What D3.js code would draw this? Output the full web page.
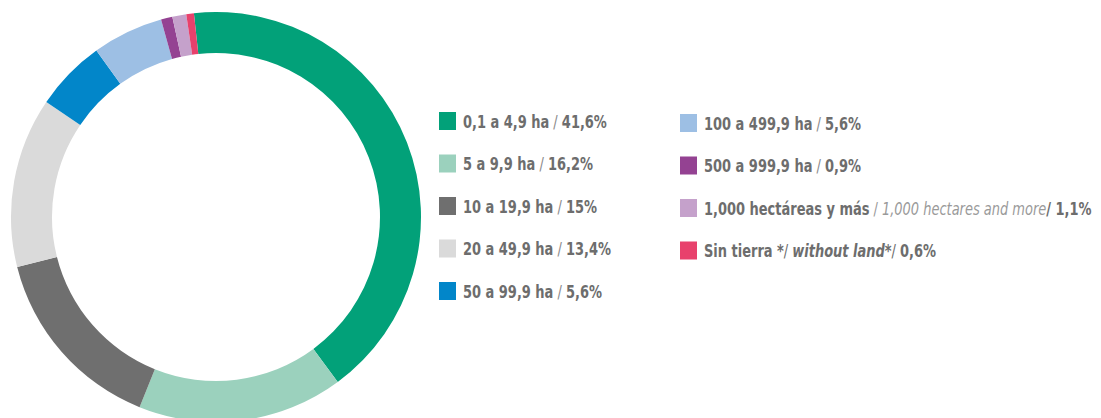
<!DOCTYPE html>
<html>
<head>
<meta charset="utf-8">
<script src="https://cdn.jsdelivr.net/npm/d3@7"></script>
<style>
  body { margin: 0; background: #fff; }
  svg text { font-family: "DejaVu Sans Condensed", "DejaVu Sans", sans-serif; }
</style>
</head>
<body>
<svg width="1101" height="418"></svg>
<script>
// categories and shares (%)
const categories = ["0,1 a 4,9 ha", "5 a 9,9 ha", "10 a 19,9 ha", "20 a 49,9 ha", "50 a 99,9 ha",
                    "100 a 499,9 ha", "500 a 999,9 ha", "1,000 hectáreas y más", "Sin tierra *"];
const values = [41.6, 16.2, 15, 13.4, 5.6, 5.6, 0.9, 1.1, 0.6];
const valueLabels = ["41,6%", "16,2%", "15%", "13,4%", "5,6%", "5,6%", "0,9%", "1,1%", "0,6%"];
const colors = ["#02a179", "#9bd1bd", "#6f6f6f", "#dadada", "#0286c9", "#9dbfe4", "#944292", "#c5a1cb", "#e8416c"];
// english translations, where shown
const english = [null, null, null, null, null, null, null, "1,000 hectares and more", "without land*"];

const svg = d3.select("svg");

// donut
const cx = 216, cy = 217, outerR = 205, innerR = 164;
const pie = d3.pie().sort(null).value(d => d)
    .startAngle(-0.108).endAngle(-0.108 + 2 * Math.PI);
const arc = d3.arc().innerRadius(innerR).outerRadius(outerR);

svg.append("g")
    .attr("transform", `translate(${cx},${cy})`)
    .selectAll("path")
    .data(pie(values))
    .enter()
    .append("path")
    .attr("d", arc)
    .attr("fill", (d, i) => colors[i]);

// legend: two columns
const idx = d3.range(categories.length);
const col = i => i < 5 ? 0 : 1;
const row = i => i < 5 ? i : i - 5;
const xCol = d3.scaleOrdinal().domain([0, 1]).range([439, 680]);
const yRow = d3.scaleLinear().domain([0, 4]).range([121, 291]);

const items = svg.append("g").selectAll("g")
    .data(idx)
    .enter()
    .append("g")
    .attr("transform", i => `translate(${xCol(col(i))},${yRow(row(i)) + (col(i) ? 2 : 0)})`);

items.append("rect")
    .attr("x", 0).attr("y", -9)
    .attr("width", 17).attr("height", 18)
    .attr("fill", i => colors[i]);

// condensed look: squeeze the glyphs horizontally
const txt = items.append("text")
    .attr("transform", "translate(24,6.5) scale(0.78,1)")
    .attr("font-size", 18.5)
    .attr("fill", "#6d6d6d");

txt.each(function (i) {
  const t = d3.select(this);
  t.append("tspan").attr("font-weight", "bold").text(categories[i]);
  if (i === 7) {
    t.append("tspan").attr("fill", "#9a9a9a").text(" / ");
    t.append("tspan").attr("fill", "#9a9a9a").attr("font-style", "italic").text(english[i]);
    t.append("tspan").attr("font-weight", "bold").text("/ " + valueLabels[i]);
  } else if (i === 8) {
    t.append("tspan").text("/ ");
    t.append("tspan").attr("font-weight", "bold").attr("font-style", "italic").text(english[i]);
    t.append("tspan").text("/ ");
    t.append("tspan").attr("font-weight", "bold").text(valueLabels[i]);
  } else {
    t.append("tspan").attr("fill", "#8a8a8a").text(" / ");
    t.append("tspan").attr("font-weight", "bold").text(valueLabels[i]);
  }
});
</script>
</body>
</html>
